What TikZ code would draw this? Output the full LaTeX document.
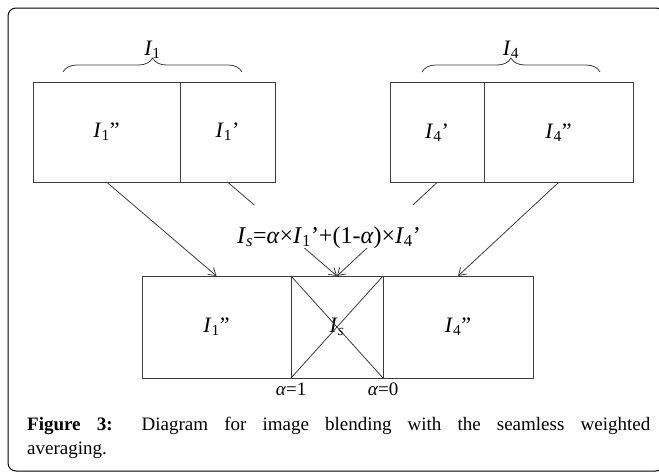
\documentclass[tikz,border=0pt]{standalone}
\usepackage{fontspec}
\setmainfont{Liberation Serif}
\usetikzlibrary{arrows.meta,positioning,decorations.pathreplacing}
\definecolor{linegray}{RGB}{60,60,60}
\newcommand{\imgI}[1]{\textit{I}\textsubscript{#1}}

\begin{document}
\begin{tikzpicture}[x=1pt,y=-1pt,
  cell/.style={draw=linegray, line width=0.9pt, inner sep=0pt, outer sep=0pt, minimum height=100pt, font=\fontsize{22}{26}\selectfont},
  feed/.style={draw=linegray, line width=0.8pt, -{Straight Barb[length=7pt,width=9pt]}},
  grp/.style={draw=linegray, line width=0.8pt, decorate, decoration={brace, amplitude=14pt}},
  lbl/.style={font=\fontsize{22}{26}\selectfont},
  node distance=0pt]
\useasboundingbox (0,0) rectangle (659,472);
\draw[line width=1pt, rounded corners=8pt] (8,8) rectangle (664,471);

% the two source images
\node[cell, minimum width=147pt] (c11) at (106.5,132) {\imgI{1}”};
\node[cell, minimum width=95pt, right=of c11] (c12) {\imgI{1}’};
\node[cell, minimum width=94pt] (c41) at (437,132.5) {\imgI{4}’};
\node[cell, minimum width=149pt, right=of c41] (c42) {\imgI{4}”};

% the blended result
\node[cell, minimum width=92pt, minimum height=102pt] (bs) at (337,327) {\imgI{\textit{s}}};
\node[cell, minimum width=149pt, minimum height=102pt, left=of bs] (b1) {\imgI{1}”};
\node[cell, minimum width=150pt, minimum height=102pt, right=of bs] (b4) {\imgI{4}”};
\draw[linegray, line width=0.8pt] (bs.north west) -- (bs.south east) (bs.north east) -- (bs.south west);

\draw[grp] (63,72) -- (242,72) node[lbl, midway, above=10pt] (g1) {\imgI{1}};
\draw[grp] (422,72) -- (600,72) node[lbl, midway, above=10pt] (g4) {\imgI{4}};

\draw[feed] (c11.south) -- (b1.north);
\draw[feed] (c12.south) -- (bs.north);
\draw[feed] (c41.south) -- (bs.north);
\draw[feed] (c42.south) -- (b4.north);

\node[font=\fontsize{24}{28}\selectfont, fill=white, inner sep=0pt, text height=38pt, text depth=5pt, anchor=base] (blend) at (329,243)
  {\imgI{\textit{s}}=\textit{α}×\imgI{1}’+(1-\textit{α})×\imgI{4}’};

\node[font=\fontsize{19}{22}\selectfont, inner sep=1pt, below=4pt of bs.south west] (a1) {\textit{α}=1};
\node[font=\fontsize{19}{22}\selectfont, inner sep=1pt, below=4pt of bs.south east] (a0) {\textit{α}=0};

\node[anchor=base west, text width=623pt, align=justify, inner sep=0pt, font=\fontsize{19}{24}\selectfont] (cap) at (27,430)
  {\textbf{Figure 3:} Diagram for image blending with the seamless weighted\linebreak averaging.};
\end{tikzpicture}
\end{document}
